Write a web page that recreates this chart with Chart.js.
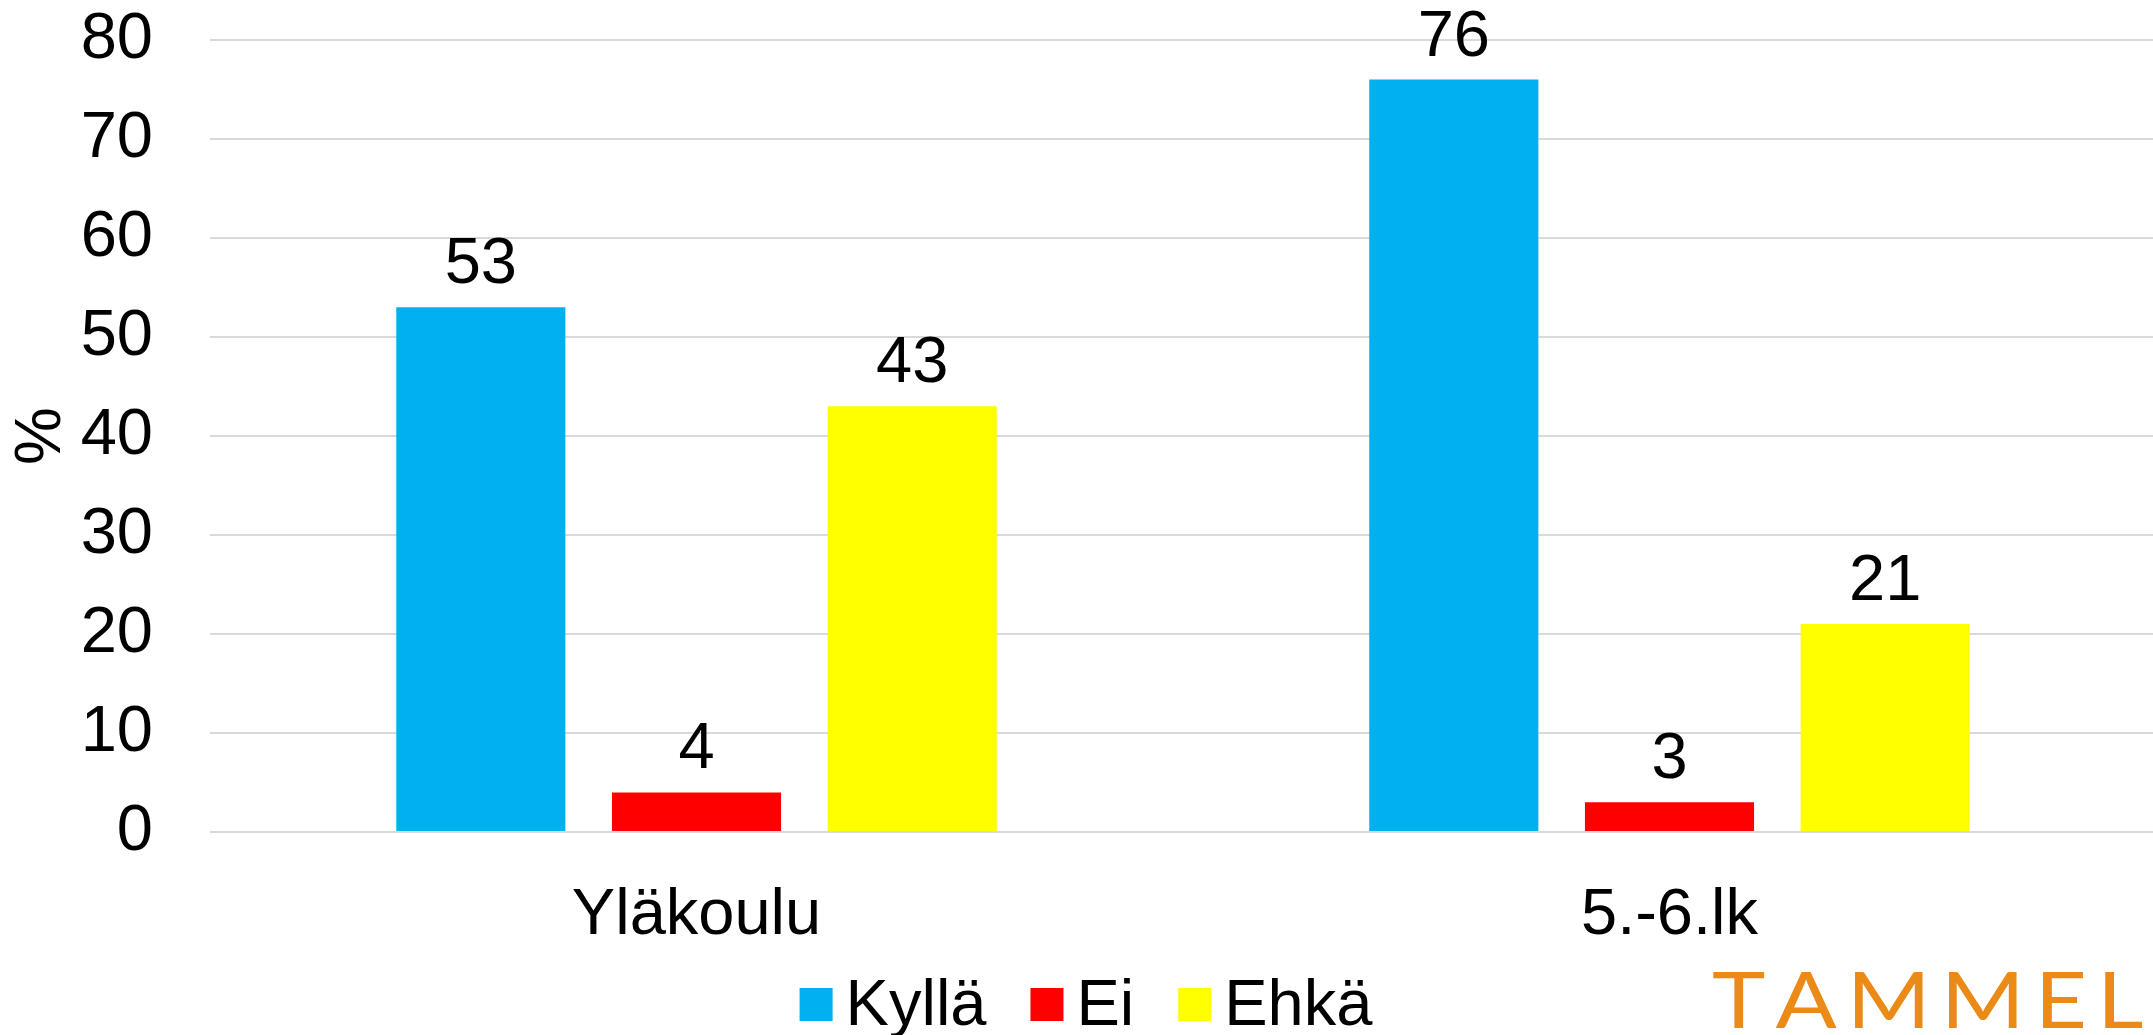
<!DOCTYPE html>
<html><head><meta charset="utf-8">
<script src="https://cdn.jsdelivr.net/npm/chart.js@4"></script>
<style>html,body{margin:0;padding:0;overflow:hidden;background:#fff}</style>
</head><body>
<canvas id="c" width="2156" height="1035"></canvas>
<script>
const categories = ['Yläkoulu', '5.-6.lk'];
const seriesNames = ['Kyllä', 'Ei', 'Ehkä'];
const kylla = [53, 76];
const ei = [4, 3];
const ehka = [43, 21];
const yTickValues = [0, 10, 20, 30, 40, 50, 60, 70, 80];
const yTitle = '%';
const brandText = 'TAMMELA';
const seriesColors = ['#00B0F0', '#FF0000', '#FFFF00'];

const FONT = '"Liberation Sans", Arial, sans-serif';
const FS = 65;

const valueLabels = {
  id: 'valueLabels',
  afterDatasetsDraw(chart) {
    const ctx = chart.ctx;
    ctx.save();
    ctx.font = FS + 'px ' + FONT;
    ctx.fillStyle = '#000';
    ctx.textAlign = 'center';
    ctx.textBaseline = 'alphabetic';
    chart.data.datasets.forEach((ds, i) => {
      chart.getDatasetMeta(i).data.forEach((bar, j) => {
        ctx.fillText(String(ds.data[j]), bar.x, bar.y - 24);
      });
    });
    ctx.restore();
  }
};

const customLegend = {
  id: 'customLegend',
  afterDraw(chart) {
    const ctx = chart.ctx;
    ctx.save();
    ctx.font = FS + 'px ' + FONT;
    const box = 33, gap = 13, space = 44;
    const items = chart.data.datasets.map(ds => ({ text: ds.label, color: ds.backgroundColor }));
    let total = 0;
    items.forEach((it, k) => {
      total += box + gap + ctx.measureText(it.text).width + (k < items.length - 1 ? space : 0);
    });
    let x = chart.width / 2 - total / 2 + 8;
    const baseY = chart.height - 10;
    const boxTop = chart.height - 47;
    ctx.textBaseline = 'alphabetic';
    ctx.textAlign = 'left';
    items.forEach(it => {
      ctx.fillStyle = it.color;
      ctx.fillRect(x, boxTop, box, box);
      x += box + gap;
      ctx.fillStyle = '#000';
      ctx.fillText(it.text, x, baseY);
      x += ctx.measureText(it.text).width + space;
    });
    // brand text (cropped at right edge)
    ctx.font = '400 78px Lato, "Open Sans", sans-serif';
    ctx.fillStyle = '#EC8A17';
    const sx = 1.16;
    let bx = 1712;
    for (const ch of brandText) {
      ctx.save();
      ctx.translate(bx, chart.height - 7);
      ctx.scale(sx, 1);
      ctx.fillText(ch, 0, 0);
      ctx.restore();
      bx += ctx.measureText(ch).width * sx + 10;
    }
    ctx.restore();
  }
};

new Chart(document.getElementById('c'), {
  type: 'bar',
  data: {
    labels: categories,
    datasets: [
      { label: seriesNames[0], data: kylla, backgroundColor: seriesColors[0] },
      { label: seriesNames[1], data: ei, backgroundColor: seriesColors[1] },
      { label: seriesNames[2], data: ehka, backgroundColor: seriesColors[2] }
    ]
  },
  options: {
    responsive: false,
    animation: false,
    devicePixelRatio: 1,
    layout: { padding: { top: 40, left: 0, right: 0, bottom: 0 } },
    datasets: { bar: { categoryPercentage: 0.665, barPercentage: 0.784 } },
    plugins: { legend: { display: false }, tooltip: { enabled: false } },
    scales: {
      x: {
        grid: { display: false },
        border: { display: false },
        ticks: { color: '#000', font: { family: FONT, size: FS }, padding: 37 },
        afterFit(scale) { scale.height = 203; }
      },
      y: {
        min: 0, max: 80,
        afterBuildTicks(scale) { scale.ticks = yTickValues.map(v => ({ value: v })); },
        grid: { color: '#D9D9D9', lineWidth: 2, drawTicks: false },
        border: { display: false },
        ticks: { color: '#000', font: { family: FONT, size: FS }, padding: 57 },
        title: { display: true, text: yTitle, color: '#000', font: { family: FONT, size: FS }, padding: { top: 3, bottom: 0 } },
        afterFit(scale) { scale.width = 210; scale.paddingTop = 0; scale.paddingBottom = 0; }
      }
    }
  },
  plugins: [valueLabels, customLegend]
});
</script>
</body></html>
